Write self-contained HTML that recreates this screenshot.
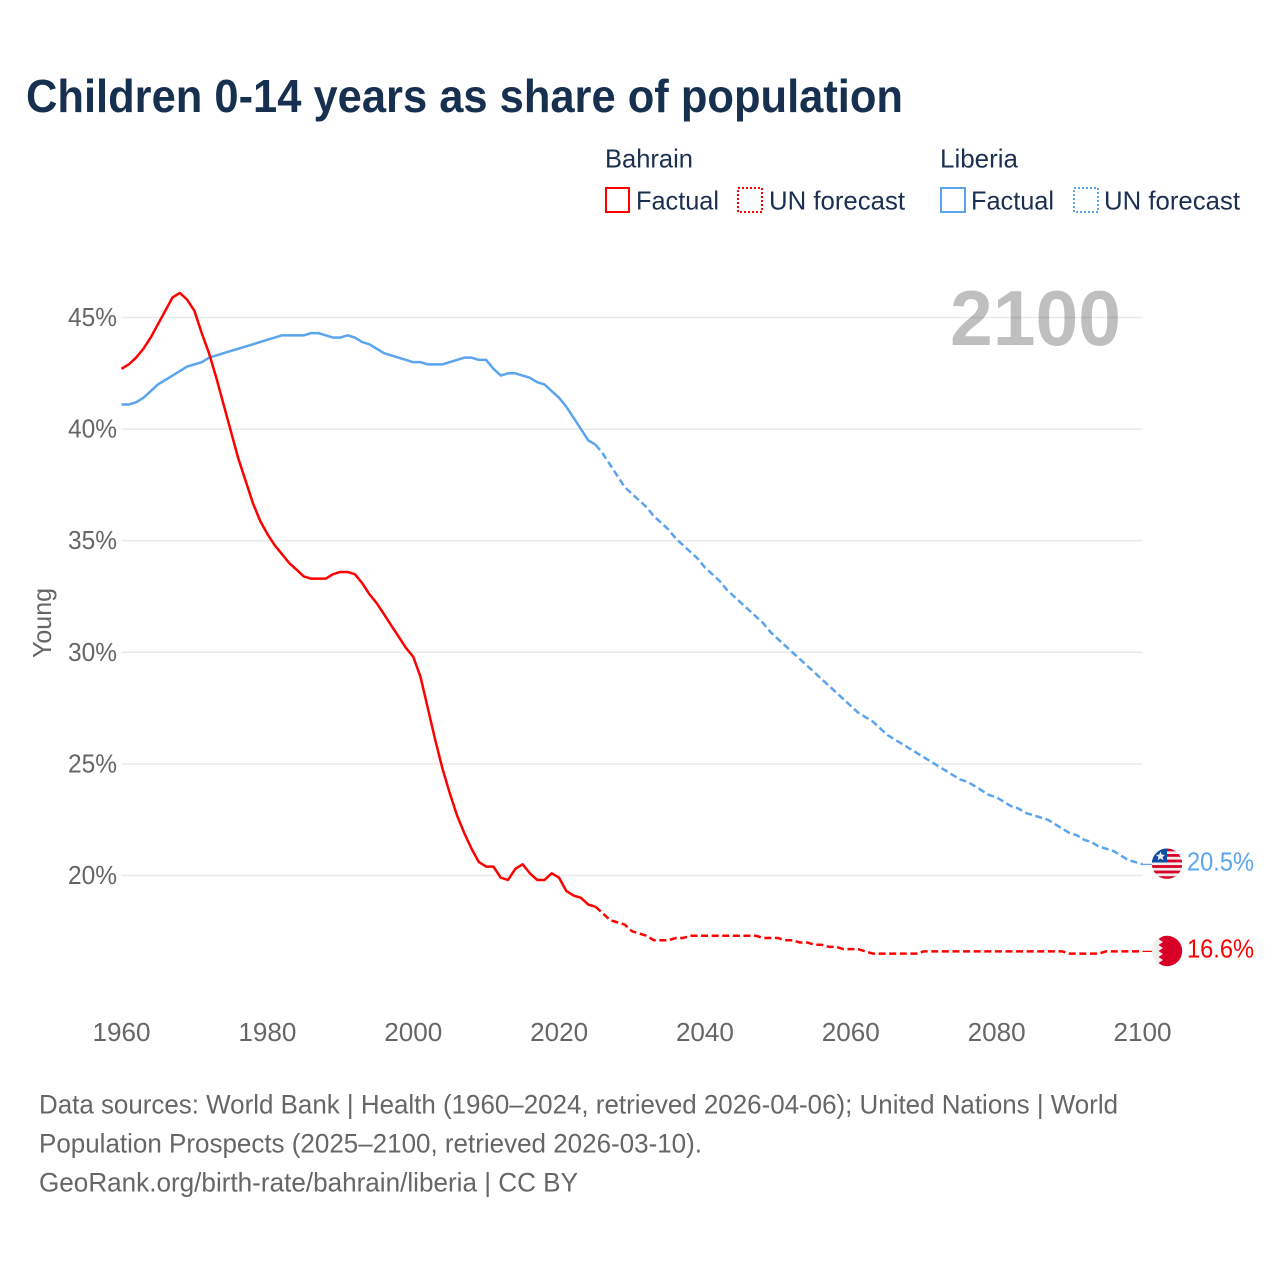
<!DOCTYPE html>
<html lang="en">
<head>
<meta charset="utf-8">
<title>Children 0-14 years as share of population</title>
<style>
html,body{margin:0;padding:0;background:#fff;width:1280px;height:1280px;overflow:hidden}
svg{display:block}
text{font-family:"Liberation Sans",sans-serif}
</style>
</head>
<body>
<svg id="chart" xmlns="http://www.w3.org/2000/svg" width="1280" height="1280" viewBox="0 0 1280 1280">
  <defs>
    <clipPath id="flag-clip-lr"><circle cx="1167" cy="863.7" r="15.2"/></clipPath>
    <clipPath id="flag-clip-bh"><circle cx="1167" cy="951" r="15.2"/></clipPath>
  </defs>
  <text x="26" y="112" font-size="46" font-weight="700" fill="#18304f" textLength="877" lengthAdjust="spacingAndGlyphs">Children 0-14 years as share of population</text>

  <g font-size="26" fill="#1b3050">
    <text x="605" y="167.5" textLength="88" lengthAdjust="spacingAndGlyphs">Bahrain</text>
    <rect x="606" y="188" width="23" height="24" fill="none" stroke="#ff0000" stroke-width="2"/>
    <text x="636" y="209.5" textLength="83" lengthAdjust="spacingAndGlyphs">Factual</text>
    <rect x="738" y="188" width="24" height="24" fill="none" stroke="#ff0000" stroke-width="2" stroke-dasharray="2 2"/>
    <text x="769" y="209.5" textLength="136" lengthAdjust="spacingAndGlyphs">UN forecast</text>
    <text x="940" y="167.5" textLength="78" lengthAdjust="spacingAndGlyphs">Liberia</text>
    <rect x="941" y="188" width="24" height="24" fill="none" stroke="#5ba4ee" stroke-width="2"/>
    <text x="971" y="209.5" textLength="83" lengthAdjust="spacingAndGlyphs">Factual</text>
    <rect x="1074" y="188" width="24" height="24" fill="none" stroke="#5ba4ee" stroke-width="2" stroke-dasharray="2 2"/>
    <text x="1104" y="209.5" textLength="136" lengthAdjust="spacingAndGlyphs">UN forecast</text>
  </g>

  <g id="grid"></g>
  <text x="950" y="345" font-size="78" font-weight="700" fill="#000000" fill-opacity="0.25" textLength="171" lengthAdjust="spacingAndGlyphs">2100</text>
  <g id="y-ticks"></g>
  <g id="x-ticks"></g>
  <text transform="translate(51,658) rotate(-90)" font-size="26" fill="#666666" textLength="70" lengthAdjust="spacingAndGlyphs">Young</text>
  <g id="series"></g>

  <g clip-path="url(#flag-clip-lr)">
    <rect x="1151" y="848" width="32" height="32" fill="#eeeeee"/>
    <rect x="1151" y="848.5" width="32" height="2.8" fill="#d80027"/>
    <rect x="1151" y="854" width="32" height="2.8" fill="#d80027"/>
    <rect x="1151" y="859.6" width="32" height="2.8" fill="#d80027"/>
    <rect x="1151" y="865.1" width="32" height="2.8" fill="#d80027"/>
    <rect x="1151" y="870.6" width="32" height="2.8" fill="#d80027"/>
    <rect x="1151" y="876.2" width="32" height="3.4" fill="#d80027"/>
    <rect x="1151" y="848" width="16" height="14.5" fill="#0b4ea2"/>
    <polygon points="1160.5,851.5 1161.8,854.6 1165,854.9 1162.6,857 1163.3,860.1 1160.5,858.5 1157.7,860.1 1158.4,857 1156,854.9 1159.2,854.6" fill="#eeeeee"/>
  </g>
  <g clip-path="url(#flag-clip-bh)">
    <rect x="1151" y="935" width="32" height="32" fill="#eeeeee"/>
    <polygon points="1161,935 1183,935 1183,967 1161,967 1163,966 1158.5,963 1163,960 1158.5,957 1163,954 1158.5,951 1163,948 1158.5,945 1163,942 1158.5,939 1163,936" fill="#d80027"/>
  </g>
  <text x="1187" y="870.5" font-size="26" fill="#5ba4ee" textLength="67" lengthAdjust="spacingAndGlyphs">20.5%</text>
  <text x="1187" y="957.5" font-size="26" fill="#ff0000" textLength="67" lengthAdjust="spacingAndGlyphs">16.6%</text>

  <g font-size="27" fill="#666666">
    <text x="39" y="1113.5" textLength="1079" lengthAdjust="spacingAndGlyphs">Data sources: World Bank | Health (1960–2024, retrieved 2026-04-06); United Nations | World</text>
    <text x="39" y="1152.5" textLength="663" lengthAdjust="spacingAndGlyphs">Population Prospects (2025–2100, retrieved 2026-03-10).</text>
    <text x="39" y="1191.5" textLength="539" lengthAdjust="spacingAndGlyphs">GeoRank.org/birth-rate/bahrain/liberia | CC BY</text>
  </g>
</svg>
<script>
const startYear = 1960;
const forecastStartYear = 2025;
const yTickValues = [45, 40, 35, 30, 25, 20];
const xTickYears = [1960, 1980, 2000, 2020, 2040, 2060, 2080, 2100];
const bahrainValues = [
  42.7,42.9,43.2,43.6,44.1,44.7,45.3,45.9,46.1,45.8,
  45.3,44.3,43.4,42.3,41.1,39.9,38.7,37.7,36.7,35.9,
  35.3,34.8,34.4,34.0,33.7,33.4,33.3,33.3,33.3,33.5,
  33.6,33.6,33.5,33.1,32.6,32.2,31.7,31.2,30.7,30.2,
  29.8,28.9,27.5,26.1,24.8,23.7,22.7,21.9,21.2,20.6,
  20.4,20.4,19.9,19.8,20.3,20.5,20.1,19.8,19.8,20.1,
  19.9,19.3,19.1,19.0,18.7,18.6,18.3,18.0,17.9,17.8,
  17.5,17.4,17.3,17.1,17.1,17.1,17.2,17.2,17.3,17.3,
  17.3,17.3,17.3,17.3,17.3,17.3,17.3,17.3,17.2,17.2,
  17.2,17.1,17.1,17.0,17.0,16.9,16.9,16.8,16.8,16.7,
  16.7,16.7,16.6,16.5,16.5,16.5,16.5,16.5,16.5,16.5,
  16.6,16.6,16.6,16.6,16.6,16.6,16.6,16.6,16.6,16.6,
  16.6,16.6,16.6,16.6,16.6,16.6,16.6,16.6,16.6,16.6,
  16.5,16.5,16.5,16.5,16.5,16.6,16.6,16.6,16.6,16.6,16.6
];
const liberiaValues = [
  41.1,41.1,41.2,41.4,41.7,42.0,42.2,42.4,42.6,42.8,
  42.9,43.0,43.2,43.3,43.4,43.5,43.6,43.7,43.8,43.9,
  44.0,44.1,44.2,44.2,44.2,44.2,44.3,44.3,44.2,44.1,
  44.1,44.2,44.1,43.9,43.8,43.6,43.4,43.3,43.2,43.1,
  43.0,43.0,42.9,42.9,42.9,43.0,43.1,43.2,43.2,43.1,
  43.1,42.7,42.4,42.5,42.5,42.4,42.3,42.1,42.0,41.7,
  41.4,41.0,40.5,40.0,39.5,39.3,38.9,38.4,37.9,37.4,
  37.1,36.8,36.5,36.1,35.8,35.5,35.1,34.8,34.5,34.2,
  33.8,33.5,33.2,32.8,32.5,32.2,31.9,31.6,31.3,30.9,
  30.6,30.3,30.0,29.7,29.4,29.1,28.8,28.5,28.2,27.9,
  27.6,27.3,27.1,26.9,26.6,26.3,26.1,25.9,25.7,25.5,
  25.3,25.1,24.9,24.7,24.5,24.3,24.2,24.0,23.8,23.6,
  23.5,23.3,23.1,23.0,22.8,22.7,22.6,22.5,22.3,22.1,
  21.9,21.8,21.6,21.5,21.3,21.2,21.1,20.9,20.7,20.6,20.5
];

const SVG_NS = 'http://www.w3.org/2000/svg';
const xScale = function (year) { return 121.5 + (year - 1960) * 7.293; };
const yScale = function (v) { return 317.5 + (45 - v) * 22.32; };
const connectorEndX = 1160;

const gridGroup = document.getElementById('grid');
const yTickGroup = document.getElementById('y-ticks');
const xTickGroup = document.getElementById('x-ticks');
const seriesGroup = document.getElementById('series');

yTickValues.forEach(function (v) {
  const line = document.createElementNS(SVG_NS, 'line');
  line.setAttribute('x1', xScale(1960));
  line.setAttribute('x2', xScale(2100));
  line.setAttribute('y1', yScale(v));
  line.setAttribute('y2', yScale(v));
  line.setAttribute('stroke', '#e9e9e9');
  line.setAttribute('stroke-width', '1.5');
  
  
  gridGroup.appendChild(line);

  const label = document.createElementNS(SVG_NS, 'text');
  label.setAttribute('x', 68);
  label.setAttribute('y', yScale(v) + 8.5);
  label.setAttribute('font-size', '26');
  label.setAttribute('fill', '#666666');
  label.setAttribute('textLength', '49');
  label.setAttribute('lengthAdjust', 'spacingAndGlyphs');
  
  
  label.textContent = v + '%';
  yTickGroup.appendChild(label);
});

xTickYears.forEach(function (year) {
  const label = document.createElementNS(SVG_NS, 'text');
  label.setAttribute('x', xScale(year) - 29);
  label.setAttribute('y', 1041);
  label.setAttribute('font-size', '26');
  label.setAttribute('fill', '#666666');
  label.setAttribute('textLength', '58');
  label.setAttribute('lengthAdjust', 'spacingAndGlyphs');
  
  
  label.textContent = year;
  xTickGroup.appendChild(label);
});

function buildPoints(values, from, to) {
  const pts = [];
  values.forEach(function (v, i) {
    const year = startYear + i;
    if (year >= from && year <= to) {
      pts.push(xScale(year).toFixed(2) + ',' + yScale(v).toFixed(2));
    }
  });
  return pts;
}

function drawSeries(values, color, group) {
  const lastYear = startYear + values.length - 1;

  const solid = document.createElementNS(SVG_NS, 'polyline');
  solid.setAttribute('points', buildPoints(values, startYear, forecastStartYear).join(' '));
  solid.setAttribute('fill', 'none');
  solid.setAttribute('stroke', color);
  solid.setAttribute('stroke-width', '2.5');
  solid.setAttribute('stroke-linejoin', 'round');
  
  
  group.appendChild(solid);

  const forecastPts = buildPoints(values, forecastStartYear, lastYear);
  const dashed = document.createElementNS(SVG_NS, 'polyline');
  dashed.setAttribute('points', forecastPts.join(' '));
  dashed.setAttribute('fill', 'none');
  dashed.setAttribute('stroke', color);
  dashed.setAttribute('stroke-width', '2.5');
  dashed.setAttribute('stroke-dasharray', '7 3.6');
  
  
  group.appendChild(dashed);

  const connector = document.createElementNS(SVG_NS, 'line');
  connector.setAttribute('x1', xScale(lastYear));
  connector.setAttribute('x2', connectorEndX);
  connector.setAttribute('y1', yScale(values[values.length - 1]));
  connector.setAttribute('y2', yScale(values[values.length - 1]));
  connector.setAttribute('stroke', color);
  connector.setAttribute('stroke-width', '1.2');
  
  
  group.appendChild(connector);
}

drawSeries(liberiaValues, '#5ba4ee', seriesGroup);
drawSeries(bahrainValues, '#ff0000', seriesGroup);
</script>
</body>
</html>
